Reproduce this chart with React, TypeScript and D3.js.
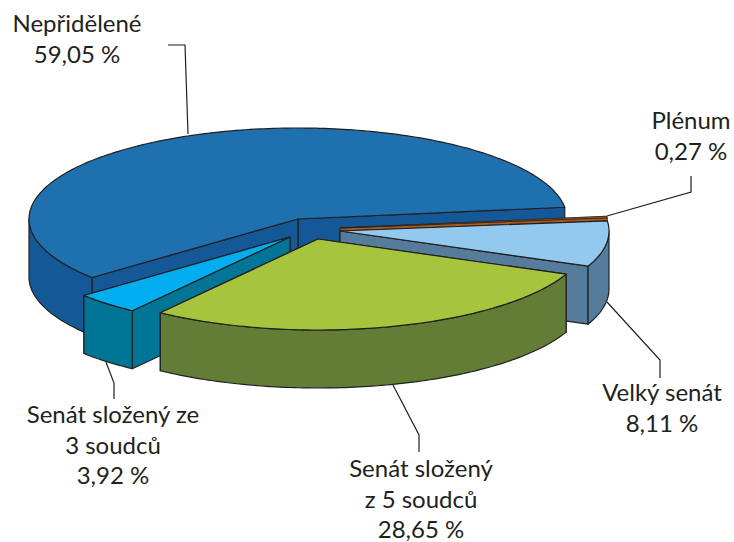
import React from "react";
import * as d3 from "d3";

const width = 734;
const height = 542;

const categories = ["Nepřidělené", "Plénum", "Velký senát", "Senát složený z 5 soudců", "Senát složený ze 3 soudců"];
const shares = [59.05, 0.27, 8.11, 28.65, 3.92];

const topColors = ["#1f70ae", "#b86a24", "#93c9ee", "#a6c53c", "#00aeef"];
const wallColors = ["#145897", "#a55c1c", "#567c9c", "#627d36", "#007595"];

// where each slice's tip sits after exploding it
const tipX = [298, 340, 340, 318, 290];
const tipY = [219, 228, 231, 239, 237];

const rx = 269;
const ry = 91;
const depth = 58;
const ink = "#231f20";

const labelLines = [
  ["Nepřidělené", "59,05 %"],
  ["Plénum", "0,27 %"],
  ["Velký senát", "8,11 %"],
  ["Senát složený", "z 5 soudců", "28,65 %"],
  ["Senát složený ze", "3 soudců", "3,92 %"],
];
const labelX = [77, 691, 662, 421, 113];
const labelY = [32, 129, 401, 477, 423];
const lineStep = 30.5;

const leaders: [number, number][][] = [
  [[168, 45], [185, 45], [188, 134]],
  [[691, 176], [691, 192], [607, 216]],
  [[660, 378], [660, 360], [607, 302]],
  [[419, 452], [419, 435], [393, 385]],
  [[114, 399], [114, 383], [106, 362]],
];

const pie = d3
  .pie<number>()
  .sort(null)
  .startAngle((230 * Math.PI) / 180)
  .endAngle((590 * Math.PI) / 180);

const line = d3.line();

function project(i: number, a: number, drop = 0): [number, number] {
  return [tipX[i] + rx * Math.sin(a), tipY[i] - ry * Math.cos(a) + drop];
}

function arcPoints(i: number, a0: number, a1: number, drop = 0) {
  const steps = Math.max(2, Math.ceil(((a1 - a0) * 180) / Math.PI));
  return d3.range(steps + 1).map((k) => project(i, a0 + ((a1 - a0) * k) / steps, drop));
}

// front-facing stretches of the rim (from 90 to 270 degrees)
function frontRuns(a0: number, a1: number) {
  const runs: [number, number][] = [];
  for (let k = 0; k < 3; k++) {
    const from = Math.max(a0, Math.PI / 2 + k * 2 * Math.PI);
    const to = Math.min(a1, (3 * Math.PI) / 2 + k * 2 * Math.PI);
    if (to > from) runs.push([from, to]);
  }
  return runs;
}

function Slice({ i, a0, a1 }: { i: number; a0: number; a1: number }) {
  const tip: [number, number] = [tipX[i], tipY[i]];
  const tipLow: [number, number] = [tipX[i], tipY[i] + depth];
  // the edge whose corner is lower on the page is nearer, so paint it last
  const edges = [a0, a1].sort((p, q) => project(i, p)[1] - project(i, q)[1]);
  const stroke = { stroke: ink, strokeWidth: i === 1 ? 0.7 : 1.2, strokeLinejoin: "round" as const };

  return (
    <g>
      {edges.map((a) => (
        <path
          key={a}
          d={line([tip, project(i, a), project(i, a, depth), tipLow]) + "Z"}
          fill={wallColors[i]}
          {...stroke}
        />
      ))}
      {frontRuns(a0, a1).map(([from, to]) => (
        <path
          key={from}
          d={line([...arcPoints(i, from, to), ...arcPoints(i, from, to, depth).reverse()]) + "Z"}
          fill={wallColors[i]}
          {...stroke}
        />
      ))}
      <path d={line([tip, ...arcPoints(i, a0, a1)]) + "Z"} fill={topColors[i]} {...stroke} />
    </g>
  );
}

export default function App() {
  const slices = pie(shares);
  // back to front
  const order = [0, 1, 2, 4, 3];

  return (
    <svg
      width={width}
      height={height}
      style={{ position: "absolute", left: 0, top: 0 }}
      fontFamily="Lato, 'Open Sans', sans-serif"
    >
      {order.map((i) => (
        <Slice key={categories[i]} i={i} a0={slices[i].startAngle} a1={slices[i].endAngle} />
      ))}
      {leaders.map((pts, i) => (
        <path key={i} d={line(pts) ?? ""} fill="none" stroke={ink} strokeWidth={1.2} />
      ))}
      {labelLines.map((rows, i) => (
        <text key={i} textAnchor="middle" fontSize={24} fill={ink}>
          {rows.map((row, r) => (
            <tspan key={r} x={labelX[i]} y={labelY[i] + r * lineStep}>
              {row}
            </tspan>
          ))}
        </text>
      ))}
    </svg>
  );
}
